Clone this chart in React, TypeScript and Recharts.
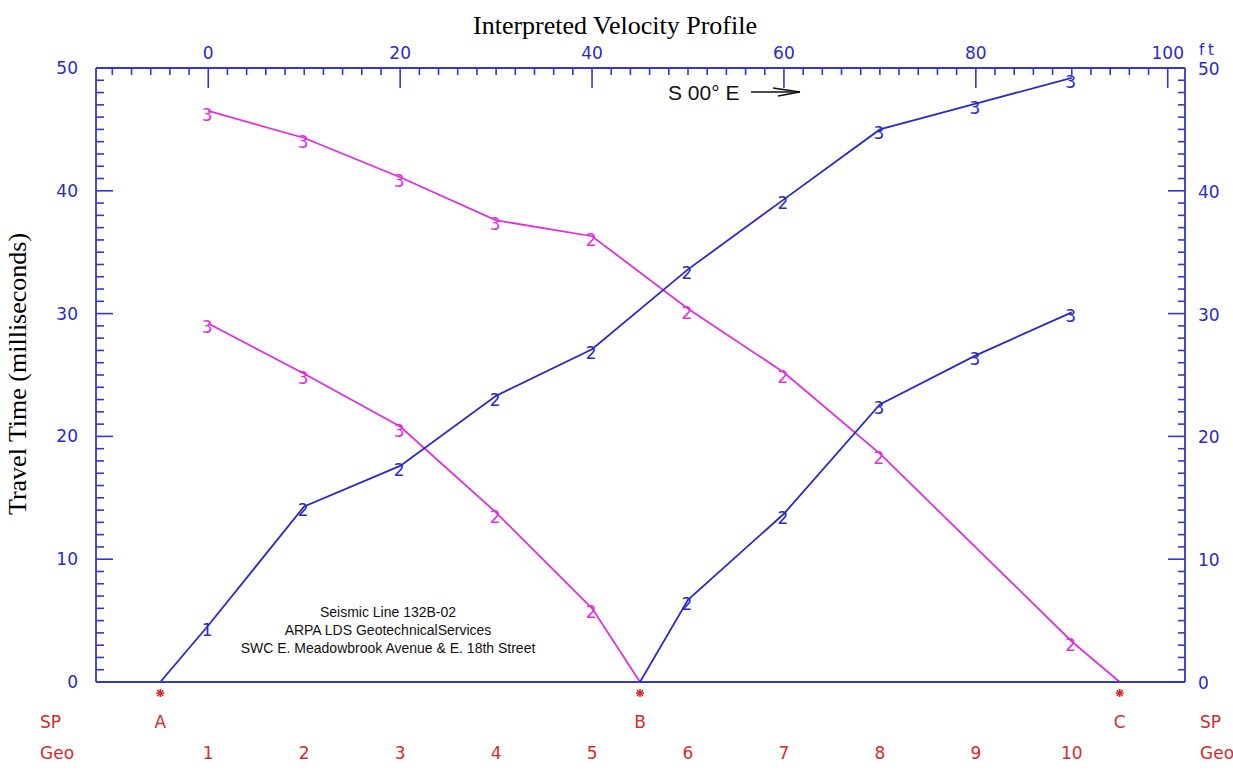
import React from 'react';
import { LineChart, Line, XAxis, YAxis, Customized } from 'recharts';

// ---------- data ----------
const shotLabels = ['A', 'B', 'C'];
const shotFt = [-5, 45, 95];
const geoLabels = ['1', '2', '3', '4', '5', '6', '7', '8', '9', '10'];
const geoFt = [0, 10, 20, 30, 40, 50, 60, 70, 80, 90];

const distTickValues = [-10, -8, -6, -4, -2, 0, 2, 4, 6, 8, 10, 12, 14, 16, 18, 20, 22, 24, 26, 28, 30, 32, 34, 36, 38, 40, 42, 44, 46, 48, 50, 52, 54, 56, 58, 60, 62, 64, 66, 68, 70, 72, 74, 76, 78, 80, 82, 84, 86, 88, 90, 92, 94, 96, 98, 100];
const timeTickValues = [0, 1, 2, 3, 4, 5, 6, 7, 8, 9, 10, 11, 12, 13, 14, 15, 16, 17, 18, 19, 20, 21, 22, 23, 24, 25, 26, 27, 28, 29, 30, 31, 32, 33, 34, 35, 36, 37, 38, 39, 40, 41, 42, 43, 44, 45, 46, 47, 48, 49, 50];

// forward shot from A
const fwdA_ft = [-5, 0, 10, 20, 30, 40, 50, 60, 70, 80, 90];
const fwdA_ms = [0, 4.6, 14.3, 17.6, 23.3, 27.1, 33.6, 39.3, 45.0, 47.1, 49.2];
const fwdA_layer = ['', '1', '2', '2', '2', '2', '2', '2', '3', '3', '3'];

// reverse shot from B
const revB_ft = [45, 40, 30, 20, 10, 0];
const revB_ms = [0, 6.0, 13.8, 20.8, 25.1, 29.2];
const revB_layer = ['', '2', '2', '3', '3', '3'];

// forward shot from B
const fwdB_ft = [45, 50, 60, 70, 80, 90];
const fwdB_ms = [0, 6.7, 13.7, 22.6, 26.6, 30.1];
const fwdB_layer = ['', '2', '2', '3', '3', '3'];

// reverse shot from C
const revC_ft = [95, 90, 70, 60, 50, 40, 30, 20, 10, 0];
const revC_ms = [0, 3.3, 18.6, 25.2, 30.4, 36.3, 37.6, 41.1, 44.3, 46.5];
const revC_layer = ['', '2', '2', '2', '2', '2', '3', '3', '3', '3'];

const build = (ft: number[], ms: number[], layer: string[]) =>
  ft.map((x, i) => ({ x, t: ms[i], layer: layer[i] }));

const seriesFwdA = build(fwdA_ft, fwdA_ms, fwdA_layer);
const seriesRevB = build(revB_ft, revB_ms, revB_layer);
const seriesFwdB = build(fwdB_ft, fwdB_ms, fwdB_layer);
const seriesRevC = build(revC_ft, revC_ms, revC_layer);

// ---------- styles ----------
const BLUE = '#2a2ac4';
const AXIS_BLUE = '#3535d2';
const MAGENTA = '#e02ee0';
const RED = '#d62a2a';
const TICK_FONT = 'DejaVu Sans';
const DOMAIN: [number, number] = [-11.7, 101.8];

const layerDot = (color: string) => (props: any) => {
  const { cx, cy, payload, index } = props;
  if (!payload || !payload.layer || cx == null || cy == null) return <g key={`d-${index}`} />;
  return (
    <text
      key={`d-${index}`}
      x={cx - 1}
      y={cy + 4}
      textAnchor="middle"
      dominantBaseline="central"
      fill={color}
      fontSize={17}
      fontFamily={TICK_FONT}
    >
      {payload.layer}
    </text>
  );
};

const TopTick = (p: any) => {
  const v = p.payload.value;
  const major = v % 20 === 0;
  return (
    <g>
      <line x1={p.x} y1={p.y} x2={p.x} y2={p.y + (major ? 20 : 7)} stroke={AXIS_BLUE} strokeWidth={1.6} />
      {major && (
        <text x={p.x} y={p.y - 9} textAnchor="middle" fill={BLUE} fontSize={17} fontFamily={TICK_FONT}>
          {v}
        </text>
      )}
    </g>
  );
};

const LeftTick = (p: any) => {
  const v = p.payload.value;
  const major = v % 10 === 0;
  return (
    <g>
      <line x1={p.x} y1={p.y} x2={p.x + (major ? 17 : 8)} y2={p.y} stroke={AXIS_BLUE} strokeWidth={1.6} />
      {major && (
        <text x={p.x - 18} y={p.y + 6} textAnchor="end" fill={BLUE} fontSize={17} fontFamily={TICK_FONT}>
          {v}
        </text>
      )}
    </g>
  );
};

const RightTick = (p: any) => {
  const v = p.payload.value;
  const major = v % 10 === 0;
  return (
    <g>
      <line x1={p.x} y1={p.y} x2={p.x - (major ? 17 : 7)} y2={p.y} stroke={AXIS_BLUE} strokeWidth={1.6} />
      {major && (
        <text x={p.x + 13} y={p.y + 7} textAnchor="start" fill={BLUE} fontSize={17} fontFamily={TICK_FONT}>
          {v}
        </text>
      )}
    </g>
  );
};

const BottomTick = (p: any) => {
  const v = p.payload.value;
  const si = shotFt.indexOf(v);
  if (si >= 0) {
    const cx = p.x;
    const cy = p.y + 11;
    const r = 4;
    return (
      <g>
        <g stroke={RED} strokeWidth={1.6}>
          <line x1={cx} y1={cy - r} x2={cx} y2={cy + r} />
          <line x1={cx - r} y1={cy} x2={cx + r} y2={cy} />
          <line x1={cx - 3} y1={cy - 3} x2={cx + 3} y2={cy + 3} />
          <line x1={cx - 3} y1={cy + 3} x2={cx + 3} y2={cy - 3} />
        </g>
        <text x={cx} y={p.y + 46} textAnchor="middle" fill={RED} fontSize={17} fontFamily={TICK_FONT}>
          {shotLabels[si]}
        </text>
      </g>
    );
  }
  const gi = geoFt.indexOf(v);
  if (gi >= 0) {
    return (
      <text x={p.x} y={p.y + 77} textAnchor="middle" fill={RED} fontSize={17} fontFamily={TICK_FONT}>
        {geoLabels[gi]}
      </text>
    );
  }
  return <g />;
};

const Overlay = () => (
  <g>
    <text x={615} y={34} textAnchor="middle" fontFamily="Liberation Serif" fontSize={26} fill="#000">
      Interpreted Velocity Profile
    </text>
    <text
      transform="translate(26,374) rotate(-90)"
      textAnchor="middle"
      fontFamily="Liberation Serif"
      fontSize={26}
      fill="#000"
    >
      Travel Time (milliseconds)
    </text>
    <text x={1199} y={55} fill={BLUE} fontSize={15} fontFamily={TICK_FONT} letterSpacing={4}>
      ft
    </text>
    <text x={668} y={100} fontFamily="Liberation Sans" fontSize={21} fill="#111">
      S 00° E
    </text>
    <g stroke="#111" strokeWidth={1.4} fill="none">
      <line x1={751} y1={92} x2={800} y2={92} />
      <line x1={773} y1={88} x2={800} y2={92} />
      <line x1={778} y1={96} x2={800} y2={92} />
    </g>
    <g fontFamily="Liberation Sans" fontSize={14} fill="#111" textAnchor="middle">
      <text x={388} y={617}>Seismic Line 132B-02</text>
      <text x={388} y={635}>ARPA LDS GeotechnicalServices</text>
      <text x={388} y={653}>SWC E. Meadowbrook Avenue &amp; E. 18th Street</text>
    </g>
    <g fontFamily={TICK_FONT} fontSize={17} fill={RED}>
      <text x={40} y={728}>SP</text>
      <text x={40} y={759}>Geo</text>
      <text x={1200} y={728}>SP</text>
      <text x={1200} y={759}>Geo</text>
    </g>
  </g>
);

export default function App() {
  return (
    <div style={{ position: 'absolute', left: 0, top: 0, width: 1233, height: 771, background: '#fff' }}>
      <LineChart width={1233} height={771} margin={{ top: 28, right: 8, bottom: 9, left: 56 }}>
        <XAxis
          xAxisId="top"
          orientation="top"
          type="number"
          dataKey="x"
          domain={DOMAIN}
          allowDataOverflow
          ticks={distTickValues}
          interval={0}
          height={40}
          tickSize={0}
          tickMargin={0}
          tickLine={false}
          tick={<TopTick />}
          axisLine={{ stroke: AXIS_BLUE, strokeWidth: 1.8 }}
        />
        <XAxis
          xAxisId="bottom"
          orientation="bottom"
          type="number"
          dataKey="x"
          domain={DOMAIN}
          allowDataOverflow
          ticks={[...shotFt, ...geoFt]}
          interval={0}
          height={80}
          tickSize={0}
          tickMargin={0}
          tickLine={false}
          tick={<BottomTick />}
          axisLine={{ stroke: AXIS_BLUE, strokeWidth: 1.8 }}
        />
        <YAxis
          yAxisId="left"
          orientation="left"
          type="number"
          domain={[0, 50]}
          allowDataOverflow
          ticks={timeTickValues}
          interval={0}
          width={40}
          tickSize={0}
          tickMargin={0}
          tickLine={false}
          tick={<LeftTick />}
          axisLine={{ stroke: AXIS_BLUE, strokeWidth: 1.8 }}
        />
        <YAxis
          yAxisId="right"
          orientation="right"
          type="number"
          domain={[0, 50]}
          allowDataOverflow
          ticks={timeTickValues}
          interval={0}
          width={40}
          tickSize={0}
          tickMargin={0}
          tickLine={false}
          tick={<RightTick />}
          axisLine={{ stroke: AXIS_BLUE, strokeWidth: 1.8 }}
        />
        <Line
          xAxisId="top"
          yAxisId="left"
          data={seriesRevB}
          dataKey="t"
          type="linear"
          stroke={MAGENTA}
          strokeWidth={1.8}
          dot={layerDot(MAGENTA)}
          activeDot={false}
          isAnimationActive={false}
        />
        <Line
          xAxisId="top"
          yAxisId="left"
          data={seriesRevC}
          dataKey="t"
          type="linear"
          stroke={MAGENTA}
          strokeWidth={1.8}
          dot={layerDot(MAGENTA)}
          activeDot={false}
          isAnimationActive={false}
        />
        <Line
          xAxisId="top"
          yAxisId="left"
          data={seriesFwdA}
          dataKey="t"
          type="linear"
          stroke={BLUE}
          strokeWidth={1.8}
          dot={layerDot(BLUE)}
          activeDot={false}
          isAnimationActive={false}
        />
        <Line
          xAxisId="top"
          yAxisId="left"
          data={seriesFwdB}
          dataKey="t"
          type="linear"
          stroke={BLUE}
          strokeWidth={1.8}
          dot={layerDot(BLUE)}
          activeDot={false}
          isAnimationActive={false}
        />
        <Customized component={Overlay} />
      </LineChart>
    </div>
  );
}
